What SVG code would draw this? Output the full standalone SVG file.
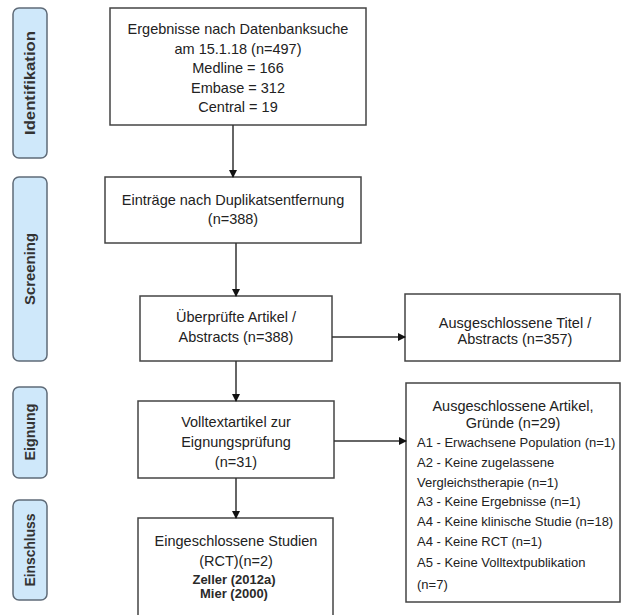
<svg xmlns="http://www.w3.org/2000/svg" width="621" height="615" viewBox="0 0 621 615">
<style>
.side{fill:#cfe8fa;stroke:#5f6b78;stroke-width:1.5}
.sl{font-family:"Liberation Sans",Arial,sans-serif;font-weight:bold;font-size:14px;fill:#333;text-anchor:middle}
.box{fill:#fff;stroke:#444;stroke-width:1.5}
.t{font-family:"Liberation Sans",Arial,sans-serif;font-size:14.5px;fill:#222;text-anchor:middle}
.s{font-family:"Liberation Sans",Arial,sans-serif;font-size:13px;fill:#222}
.sb{font-family:"Liberation Sans",Arial,sans-serif;font-size:13px;font-weight:bold;fill:#2a2a2a;text-anchor:middle}
.c{stroke:#333;stroke-width:1.5;fill:none;marker-end:url(#ah)}
</style>
<defs>
<marker id="ah" markerWidth="8" markerHeight="8" refX="7" refY="4" orient="auto" markerUnits="userSpaceOnUse">
<path d="M0,0 L8,4 L0,8 Z" fill="#111"/>
</marker>
</defs>
<rect width="621" height="615" fill="#fff"/>
<g id="phase-identifikation"><rect class="side" x="13" y="8" width="34" height="150" rx="6"/><text class="sl" transform="translate(35,83) rotate(-90)" textLength="104" lengthAdjust="spacingAndGlyphs">Identifikation</text></g>
<g id="phase-screening"><rect class="side" x="13" y="177" width="34" height="184" rx="6"/><text class="sl" transform="translate(35,269) rotate(-90)" textLength="72" lengthAdjust="spacingAndGlyphs">Screening</text></g>
<g id="phase-eignung"><rect class="side" x="13" y="387" width="34" height="91" rx="6"/><text class="sl" transform="translate(35,432) rotate(-90)" textLength="57" lengthAdjust="spacingAndGlyphs">Eignung</text></g>
<g id="phase-einschluss"><rect class="side" x="13" y="500" width="34" height="100" rx="6"/><text class="sl" transform="translate(35,550) rotate(-90)" textLength="73" lengthAdjust="spacingAndGlyphs">Einschluss</text></g>

<g id="n1"><rect class="box" x="110" y="8" width="256" height="117"/>
<text class="t" x="238" y="34">Ergebnisse nach Datenbanksuche</text>
<text class="t" x="238" y="54">am 15.1.18 (n=497)</text>
<text class="t" x="238" y="73">Medline = 166</text>
<text class="t" x="238" y="93">Embase = 312</text>
<text class="t" x="238" y="112">Central = 19</text></g>

<g id="n2"><rect class="box" x="105" y="177" width="256" height="66"/>
<text class="t" x="233" y="205">Einträge nach Duplikatsentfernung</text>
<text class="t" x="233" y="224">(n=388)</text></g>

<g id="n3"><rect class="box" x="140" y="296" width="192" height="65"/>
<text class="t" x="236" y="322">Überprüfte Artikel /</text>
<text class="t" x="236" y="342">Abstracts (n=388)</text></g>

<g id="n4"><rect class="box" x="405" y="294" width="215" height="67"/>
<text class="t" x="515" y="328">Ausgeschlossene Titel /</text>
<text class="t" x="515" y="344">Abstracts (n=357)</text></g>

<g id="n5"><rect class="box" x="138" y="401" width="196" height="77"/>
<text class="t" x="236" y="427">Volltextartikel zur</text>
<text class="t" x="236" y="447">Eignungsprüfung</text>
<text class="t" x="236" y="467">(n=31)</text></g>

<g id="n6"><rect class="box" x="406" y="383" width="214" height="219"/>
<text class="t" x="513" y="411">Ausgeschlossene Artikel,</text>
<text class="t" x="513" y="428">Gründe (n=29)</text>
<text class="s" x="417" y="447">A1 - Erwachsene Population (n=1)</text>
<text class="s" x="417" y="467">A2 - Keine zugelassene</text>
<text class="s" x="417" y="487">Vergleichstherapie (n=1)</text>
<text class="s" x="417" y="506">A3 - Keine Ergebnisse (n=1)</text>
<text class="s" x="417" y="526">A4 - Keine klinische Studie (n=18)</text>
<text class="s" x="417" y="546">A4 - Keine RCT (n=1)</text>
<text class="s" x="417" y="567">A5 - Keine Volltextpublikation</text>
<text class="s" x="417" y="589">(n=7)</text></g>

<g id="n7"><rect class="box" x="138" y="518" width="195" height="110"/>
<text class="t" x="236" y="546">Eingeschlossene Studien</text>
<text class="t" x="236" y="566">(RCT)(n=2)</text>
<text class="sb" x="234" y="584">Zeller (2012a)</text>
<text class="sb" x="234" y="598">Mier (2000)</text></g>

<g id="connectors">
<line class="c" x1="233" y1="125" x2="233" y2="177"/>
<line class="c" x1="236" y1="243" x2="236" y2="296"/>
<line class="c" x1="236" y1="361" x2="236" y2="401"/>
<line class="c" x1="236" y1="478" x2="236" y2="518"/>
<line class="c" x1="332" y1="337" x2="405" y2="337"/>
<line class="c" x1="334" y1="441" x2="406" y2="441"/>
</g>
</svg>
